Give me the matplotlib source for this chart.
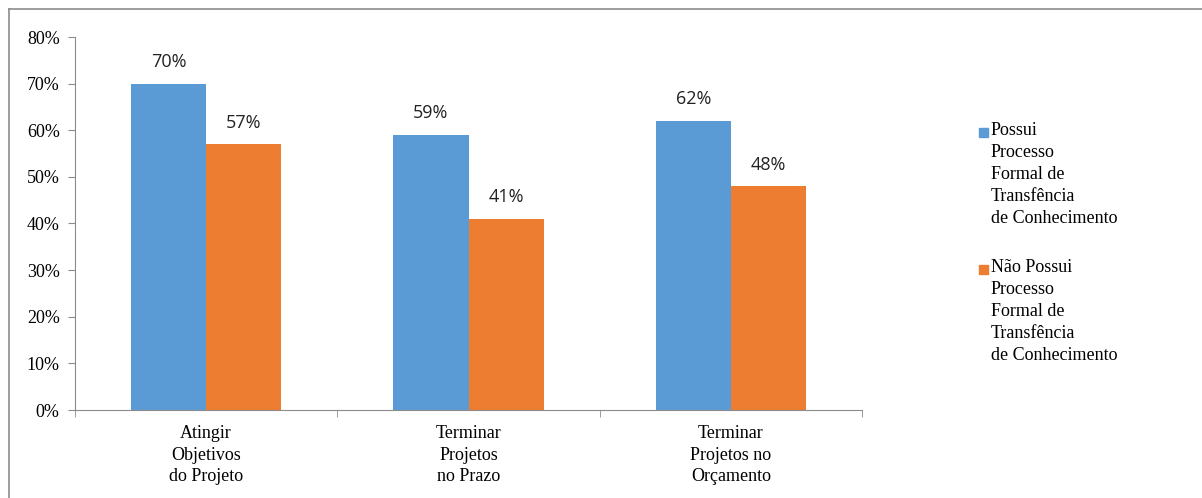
import matplotlib
matplotlib.use("Agg")
import matplotlib.pyplot as plt
from matplotlib.patches import Rectangle
from matplotlib.lines import Line2D

categories = ["Atingir\nObjetivos\ndo Projeto", "Terminar\nProjetos\nno Prazo", "Terminar\nProjetos no\nOrçamento"]
series_names = ["Possui\nProcesso\nFormal de\nTransfência\nde Conhecimento",
                "Não Possui\nProcesso\nFormal de\nTransfência\nde Conhecimento"]
possui = [0.70, 0.59, 0.62]
nao_possui = [0.57, 0.41, 0.48]
yticks = [0.0, 0.1, 0.2, 0.3, 0.4, 0.5, 0.6, 0.7, 0.8]

colors = ["#5B9BD5", "#ED7D31"]
plt.rcParams['font.serif'] = ['Liberation Serif', 'DejaVu Serif']
serif = "serif"
sans = "Open Sans"

fig = plt.figure(figsize=(12.02, 4.98), dpi=100)
ax = fig.add_axes([75 / 1202, 1 - 410 / 498, (862 - 75) / 1202, (410 - 37) / 498])

w = 0.286
x = list(range(len(categories)))
for k, vals in enumerate([possui, nao_possui]):
    pos = [i + (k - 0.5) * w for i in x]
    bars = ax.bar(pos, vals, width=w, color=colors[k], zorder=2)
    for b, v in zip(bars, vals):
        ax.annotate(f"{v * 100:.0f}%", (b.get_x() + b.get_width() / 2, v),
                    xytext=(0, 9), textcoords="offset points", ha="center", va="bottom",
                    fontsize=13, family=sans, color="#222222")

ax.set_xlim(-0.5, 2.5)
ax.set_ylim(0, 0.8)
ax.set_yticks(yticks)
ax.set_yticklabels([f"{v * 100:.0f}%" for v in yticks], family=serif, fontsize=13)
ax.set_xticks(x)
ax.set_xticklabels(categories, family=serif, fontsize=13, linespacing=1.35)
ax.set_xticks([-0.5, 0.5, 1.5, 2.5], minor=True)
ax.tick_params(axis="x", which="major", length=0, pad=11)
ax.tick_params(axis="x", which="minor", length=5, color="#8c8c8c", direction="out")
ax.tick_params(axis="y", length=5, color="#8c8c8c", direction="out", pad=6)
for s in ["top", "right"]:
    ax.spines[s].set_visible(False)
for s in ["left", "bottom"]:
    ax.spines[s].set_color("#8c8c8c")

# legend drawn by hand so the squares sit on the first line
leg_y = [1 - 132 / 498, 1 - 269 / 498]
for k, name in enumerate(series_names):
    fig.patches.append(Rectangle((979 / 1202, leg_y[k] - 5 / 498), 9 / 1202, 9 / 498,
                                 transform=fig.transFigure, color=colors[k]))
    fig.text(991 / 1202, leg_y[k] + 10 / 498, name, family=serif, fontsize=13,
             va="top", ha="left", linespacing=1.38)

# outer frame of the slide
fig.add_artist(Line2D([9 / 1202, 1], [1 - 9 / 498, 1 - 9 / 498], color="#8c8c8c", lw=1.2))
fig.add_artist(Line2D([9 / 1202, 9 / 1202], [0, 1 - 9 / 498], color="#8c8c8c", lw=1.2))

fig.savefig("out.png", dpi=100)
